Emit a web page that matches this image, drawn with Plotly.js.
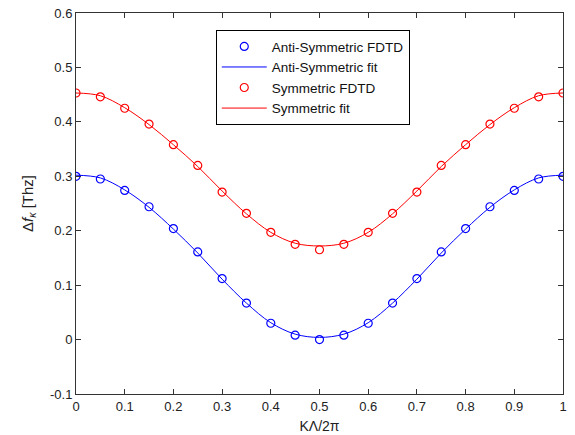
<!DOCTYPE html>
<html>
<head>
<meta charset="utf-8">
<script src="https://cdn.plot.ly/plotly-3.0.1.min.js"></script>
<style>html,body{margin:0;padding:0;background:#fff;}#chart{width:575px;height:435px;}</style>
</head>
<body>
<div id="chart"></div>
<script>
// K-Lambda/2pi sample positions
const kPoints = [0,0.05,0.1,0.15,0.2,0.25,0.3,0.35,0.4,0.45,0.5,0.55,0.6,0.65,0.7,0.75,0.8,0.85,0.9,0.95,1];
// FDTD values [THz]
const antiFDTD = [0.300,0.295,0.274,0.244,0.204,0.161,0.112,0.067,0.030,0.008,0.000,0.008,0.030,0.067,0.112,0.161,0.204,0.244,0.274,0.295,0.300];
const symFDTD  = [0.453,0.446,0.425,0.396,0.358,0.320,0.271,0.232,0.197,0.175,0.165,0.175,0.197,0.232,0.271,0.320,0.358,0.396,0.425,0.446,0.453];
// Fit curves
const antiFit = [0.302,0.297,0.275,0.243,0.203,0.159,0.111,0.067,0.031,0.010,0.004,0.010,0.031,0.067,0.111,0.159,0.203,0.243,0.275,0.297,0.302];
const symFit  = [0.453,0.448,0.426,0.395,0.358,0.318,0.273,0.231,0.197,0.177,0.172,0.177,0.197,0.231,0.273,0.318,0.358,0.395,0.426,0.448,0.453];
const seriesNames = ['Anti-Symmetric FDTD','Anti-Symmetric fit','Symmetric FDTD','Symmetric fit'];
const xTicks = [0,0.1,0.2,0.3,0.4,0.5,0.6,0.7,0.8,0.9,1];
const yTicks = [-0.1,0,0.1,0.2,0.3,0.4,0.5,0.6];

const font = {family:'Liberation Sans, Arial, sans-serif', size:13, color:'#222'};
const titleFont = {family:'Liberation Sans, Arial, sans-serif', size:14, color:'#222'};
const traces = [
  {x:kPoints, y:antiFDTD, name:seriesNames[0], mode:'markers', type:'scatter',
   marker:{symbol:'circle-open', size:8, color:'#0000ff', line:{width:1.2, color:'#0000ff'}}},
  {x:kPoints, y:antiFit, name:seriesNames[1], mode:'lines', type:'scatter',
   line:{color:'#0000ff', width:1, shape:'spline'}},
  {x:kPoints, y:symFDTD, name:seriesNames[2], mode:'markers', type:'scatter',
   marker:{symbol:'circle-open', size:8, color:'#ff0000', line:{width:1.2, color:'#ff0000'}}},
  {x:kPoints, y:symFit, name:seriesNames[3], mode:'lines', type:'scatter',
   line:{color:'#ff0000', width:1, shape:'spline'}}
];
const axisCommon = {showgrid:false, zeroline:false, showline:true, linecolor:'#333', linewidth:1,
  mirror:'ticks', ticks:'inside', ticklen:5, tickcolor:'#333', tickfont:font};
const layout = {
  width:575, height:435,
  margin:{l:76, r:12, t:13, b:41},
  paper_bgcolor:'#fff', plot_bgcolor:'#fff',
  font:font,
  showlegend:true,
  legend:{x:0.287, y:0.955, xanchor:'left', yanchor:'top', bgcolor:'#fff',
    bordercolor:'#000', borderwidth:1, font:{family:font.family, size:13.5, color:'#111'},
    itemwidth:45, tracegroupgap:0},
  xaxis:Object.assign({}, axisCommon, {range:[0,1], tickvals:xTicks, ticktext:xTicks.map(String),
    title:{text:'KΛ/2π', font:titleFont, standoff:8}}),
  yaxis:Object.assign({}, axisCommon, {range:[-0.1,0.6], tickvals:yTicks, ticktext:yTicks.map(String),
    title:{text:'Δ<i>f</i><sub><i>κ</i></sub> [Thz]', font:{family:titleFont.family, size:15, color:'#222'}, standoff:12}})
};
Plotly.newPlot('chart', traces, layout, {displayModeBar:false, staticPlot:true});
</script>
</body>
</html>
